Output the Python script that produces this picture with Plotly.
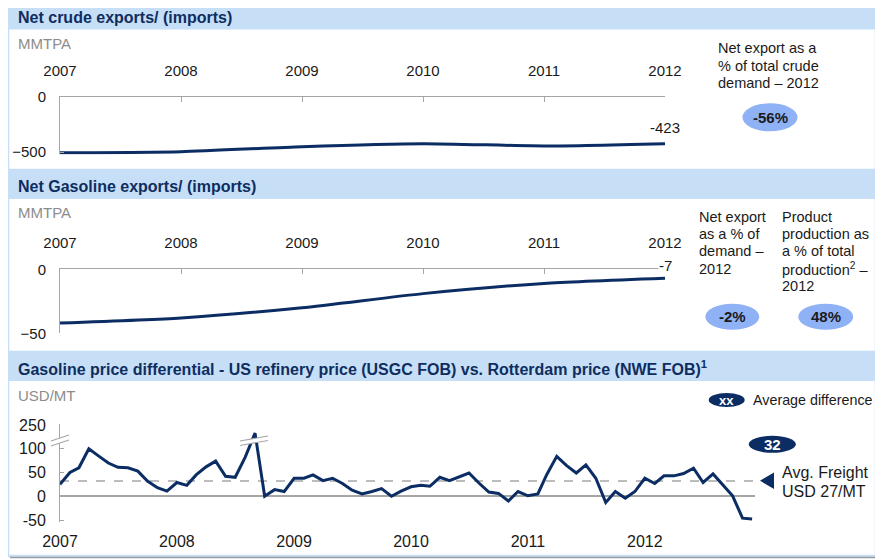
import plotly.graph_objects as go
import pandas as pd

# page body adds an 8px margin, so the figure is drawn 8px in from the top-left corner
OFF = 8
W, H = 883 - OFF, 559 - OFF
FONT = "Liberation Sans, Arial, sans-serif"
NAVY = "#0b2d63"
TITLE_C = "#0f2d5f"
HEADER = "#c6dff7"
GRAY_AX = "#a6a6a6"
GRAY_TXT = "#8c8c8c"
BUBBLE = "#8fb1f5"
TXT = "#1a1a1a"

# ---------------- data ----------------
years = [2007, 2008, 2009, 2010, 2011, 2012]
year_labels = ["2007", "2008", "2009", "2010", "2011", "2012"]
crude_net = [-505, -495, -450, -423, -444, -423]          # MMTPA
gasoline_net = [-42, -38, -30, -19, -11, -7]              # MMTPA

price_months = pd.date_range("2007-01-01", periods=72, freq="MS")
price_diff = [25, 50, 60, 100, 85, 70, 61, 60, 53, 32, 18, 11,
              29, 23, 45, 62, 74, 42, 40, 82, 233, 0, 14, 10,
              38, 38, 45, 33, 38, 27, 13, 5, 10, 16, 0, 11,
              20, 23, 21, 40, 33, 41, 49, 28, 9, 6, -10, 10,
              1, 5, 46, 84, 65, 49, 66, 38, -13, 10, -4, 10,
              38, 27, 43, 43, 48, 59, 29, 47, 24, 1, -46, -48]  # USD/MT
avg_line_level = 32
price_ticks = [-50, 0, 50, 100, 150]
price_tick_labels = ["-50", "0", "50", "100", "250"]
BREAK_FROM = 150      # values above this sit on the upper (broken) segment
BREAK_SHIFT = 100     # upper segment shown 100 units lower (250 -> 150)

crude_label = "-423"
gas_label = "-7"
crude_share = "-56%"
gas_share = "-2%"
prod_share = "48%"
avg_diff = "32"

price_display = [v - BREAK_SHIFT if v > BREAK_FROM else v for v in price_diff]


def px(x):
    return (x - OFF) / W


def py(y):
    return 1 - (y - OFF) / H


fig = go.Figure()

fig.add_trace(go.Scatter(x=years, y=crude_net, mode="lines", xaxis="x", yaxis="y",
                         line=dict(color=NAVY, width=3, shape="spline", smoothing=0.6),
                         hoverinfo="skip"))
fig.add_trace(go.Scatter(x=years, y=gasoline_net, mode="lines", xaxis="x2", yaxis="y2",
                         line=dict(color=NAVY, width=3, shape="spline", smoothing=0.6),
                         hoverinfo="skip"))
fig.add_trace(go.Scatter(x=price_months, y=price_display, mode="lines", xaxis="x3", yaxis="y3",
                         line=dict(color=NAVY, width=3), hoverinfo="skip"))

tickfont_small = dict(family=FONT, size=15, color=TXT)
tickfont_big = dict(family=FONT, size=16, color=TXT)

common_top_x = dict(range=[2007, 2012], side="top", tickvals=years, ticktext=year_labels,
                    ticks="inside", ticklen=5, tickcolor=GRAY_AX, showline=True,
                    linecolor=GRAY_AX, linewidth=1, showgrid=False, zeroline=False,
                    tickfont=tickfont_small, ticklabelstandoff=14, automargin=False,
                    domain=[px(60), px(665)])
common_y = dict(showline=True, linecolor=GRAY_AX, linewidth=1, ticks="inside", ticklen=4,
                tickcolor=GRAY_AX, showgrid=False, zeroline=False, tickfont=tickfont_small,
                ticklabelstandoff=10, automargin=False)

fig.update_layout(
    template="none",
    width=W, height=H, margin=dict(l=0, r=0, t=0, b=0, pad=0, autoexpand=False),
    paper_bgcolor="white", plot_bgcolor="rgba(0,0,0,0)", showlegend=False,
    font=dict(family=FONT, color=TXT),
    xaxis=dict(anchor="y", **common_top_x),
    yaxis=dict(anchor="x", domain=[py(154.4), py(96.7)], range=[-520, 0],
               tickvals=[0, -500], **common_y),
    xaxis2=dict(anchor="y2", **common_top_x),
    yaxis2=dict(anchor="x2", domain=[py(333.3), py(269.3)], range=[-50, 0],
                tickvals=[0, -50], **common_y),
    xaxis3=dict(anchor="y3", type="date", domain=[px(60), px(755)],
                range=["2007-01-01", "2012-12-10"],
                tickvals=[f"{y}-01-01" for y in years], ticktext=year_labels,
                ticks="", showline=False, showgrid=False, zeroline=False, automargin=False,
                tickfont=tickfont_big, ticklabelstandoff=8),
    yaxis3=dict(anchor="x3", domain=[py(522.4), py(424.1)], range=[-55, 152],
                tickvals=price_ticks, ticktext=price_tick_labels, automargin=False,
                showline=True, linecolor=GRAY_AX, linewidth=1, ticks="inside", ticklen=4,
                tickcolor=GRAY_AX, showgrid=False, zeroline=True, zerolinecolor=GRAY_AX,
                zerolinewidth=1.5, tickfont=tickfont_big, ticklabelstandoff=10),
)

shapes = []
# panels
panels = [(3, 170, 29.5), (172, 352, 199), (354, 556, 381)]
for top, bot, hb in panels:
    shapes.append(dict(type="rect", xref="paper", yref="paper", x0=px(8), x1=px(876),
                       y0=py(bot), y1=py(top), line=dict(color=HEADER, width=2.5),
                       fillcolor="white", layer="below"))
    shapes.append(dict(type="rect", xref="paper", yref="paper", x0=px(8), x1=px(876),
                       y0=py(hb), y1=py(top), line=dict(width=0),
                       fillcolor=HEADER, layer="below"))
    shapes.append(dict(type="line", xref="paper", yref="paper", x0=px(878), x1=px(878),
                       y0=py(bot + 1), y1=py(top + 3), line=dict(color="#9c9c9c", width=1.5),
                       layer="below"))
shapes.append(dict(type="line", xref="paper", yref="paper", x0=px(10), x1=px(878),
                   y0=py(557.5), y1=py(557.5), line=dict(color="#9c9c9c", width=1.5),
                   layer="below"))

# dashed average line
shapes.append(dict(type="line", xref="x3 domain", yref="y3", x0=0, x1=1.003,
                   y0=avg_line_level, y1=avg_line_level,
                   line=dict(color=GRAY_AX, width=1.5, dash="dash"), layer="below"))


def poly(points):
    s = "M " + " L ".join(f"{px(x):.5f},{py(y):.5f}" for x, y in points) + " Z"
    return s


def seg(p0, p1, color=GRAY_AX):
    return dict(type="line", xref="paper", yref="paper", x0=px(p0[0]), y0=py(p0[1]),
                x1=px(p1[0]), y1=py(p1[1]), line=dict(color=color, width=1.2), layer="above")


# axis break marker
shapes.append(dict(type="path", xref="paper", yref="paper",
                   path=poly([(51, 446), (69, 440), (69, 435), (51, 441)]),
                   fillcolor="white", line=dict(width=0), layer="above"))
shapes.append(seg((51, 446), (69, 440)))
shapes.append(seg((51, 441), (69, 435)))
# line break marker
shapes.append(dict(type="path", xref="paper", yref="paper",
                   path=poly([(240, 445.5), (268, 440.5), (268, 436), (240, 441)]),
                   fillcolor="white", line=dict(width=0), layer="above"))
shapes.append(seg((240, 445.5), (268, 440.5)))
shapes.append(seg((240, 441), (268, 436)))


def ellipse(cx, cy, w, h, color):
    return dict(type="circle", xref="paper", yref="paper", x0=px(cx - w / 2), x1=px(cx + w / 2),
                y0=py(cy + h / 2), y1=py(cy - h / 2), fillcolor=color, line=dict(width=0),
                layer="above")


shapes.append(ellipse(770, 117.3, 55, 28, BUBBLE))
shapes.append(ellipse(732.3, 316.7, 54, 26, BUBBLE))
shapes.append(ellipse(825.7, 316.7, 55, 26, BUBBLE))
shapes.append(ellipse(726.7, 400, 36, 14, NAVY))
shapes.append(ellipse(772.3, 444.3, 47, 17, NAVY))
# freight triangle
shapes.append(dict(type="path", xref="paper", yref="paper",
                   path=poly([(760, 480.7), (774, 472.5), (774, 489)]),
                   fillcolor=NAVY, line=dict(width=0), layer="above"))

annotations = []


def text(x, y, s, size=14, color=TXT, xanchor="left", bold=False, bg=None):
    d = dict(x=px(x), y=py(y), xref="paper", yref="paper", text=f"<b>{s}</b>" if bold else s,
             showarrow=False, xanchor=xanchor, yanchor="middle",
             font=dict(family=FONT, size=size, color=color))
    if bg:
        d["bgcolor"] = bg
    annotations.append(d)


# titles
text(16, 17.5, "Net crude exports/ (imports)", 16, TITLE_C, bold=True)
text(16, 186.5, "Net Gasoline exports/ (imports)", 16, TITLE_C, bold=True)
text(16, 368, "Gasoline price differential - US refinery price (USGC FOB) vs. Rotterdam price (NWE FOB)<sup>1</sup>",
     16, TITLE_C, bold=True)
# units
text(16, 43.5, "MMTPA", 15, GRAY_TXT)
text(16, 212.5, "MMTPA", 15, GRAY_TXT)
text(16, 395, "USD/MT", 15, GRAY_TXT)

# right-side notes
for i, s in enumerate(["Net export as a", "% of total crude", "demand – 2012"]):
    text(716, 48.3 + i * 17.2, s, 14.5)
for i, s in enumerate(["Net export", "as a % of", "demand –", "2012"]):
    text(697, 216.7 + i * 17.3, s, 14.5)
for i, s in enumerate(["Product", "production as", "a % of total", "production<sup>2</sup> –", "2012"]):
    text(780, 216.7 + i * 17.3, s, 14.5)

text(770, 117.3, crude_share, 15, TXT, "center", bold=True)
text(732.3, 316.7, gas_share, 15, TXT, "center", bold=True)
text(825.7, 316.7, prod_share, 15, TXT, "center", bold=True)
text(726.7, 400.5, "xx", 13, "white", "center", bold=True)
text(751, 400, "Average difference", 14.3)
text(772.3, 444.8, avg_diff, 15, "white", "center", bold=True)
text(780, 472.7, "Avg. Freight", 16)
text(780, 491.7, "USD 27/MT", 16)

# data labels
annotations.append(dict(x=years[-1], y=crude_net[-1], xref="x", yref="y", text=crude_label,
                        showarrow=False, yshift=16, font=dict(family=FONT, size=15, color=TXT)))
annotations.append(dict(x=years[-1], y=gasoline_net[-1], xref="x2", yref="y2", text=gas_label,
                        showarrow=False, yshift=13, bgcolor="white", borderpad=0,
                        font=dict(family=FONT, size=15, color=TXT)))

fig.update_layout(shapes=shapes, annotations=annotations)
fig.write_html("out.html")
